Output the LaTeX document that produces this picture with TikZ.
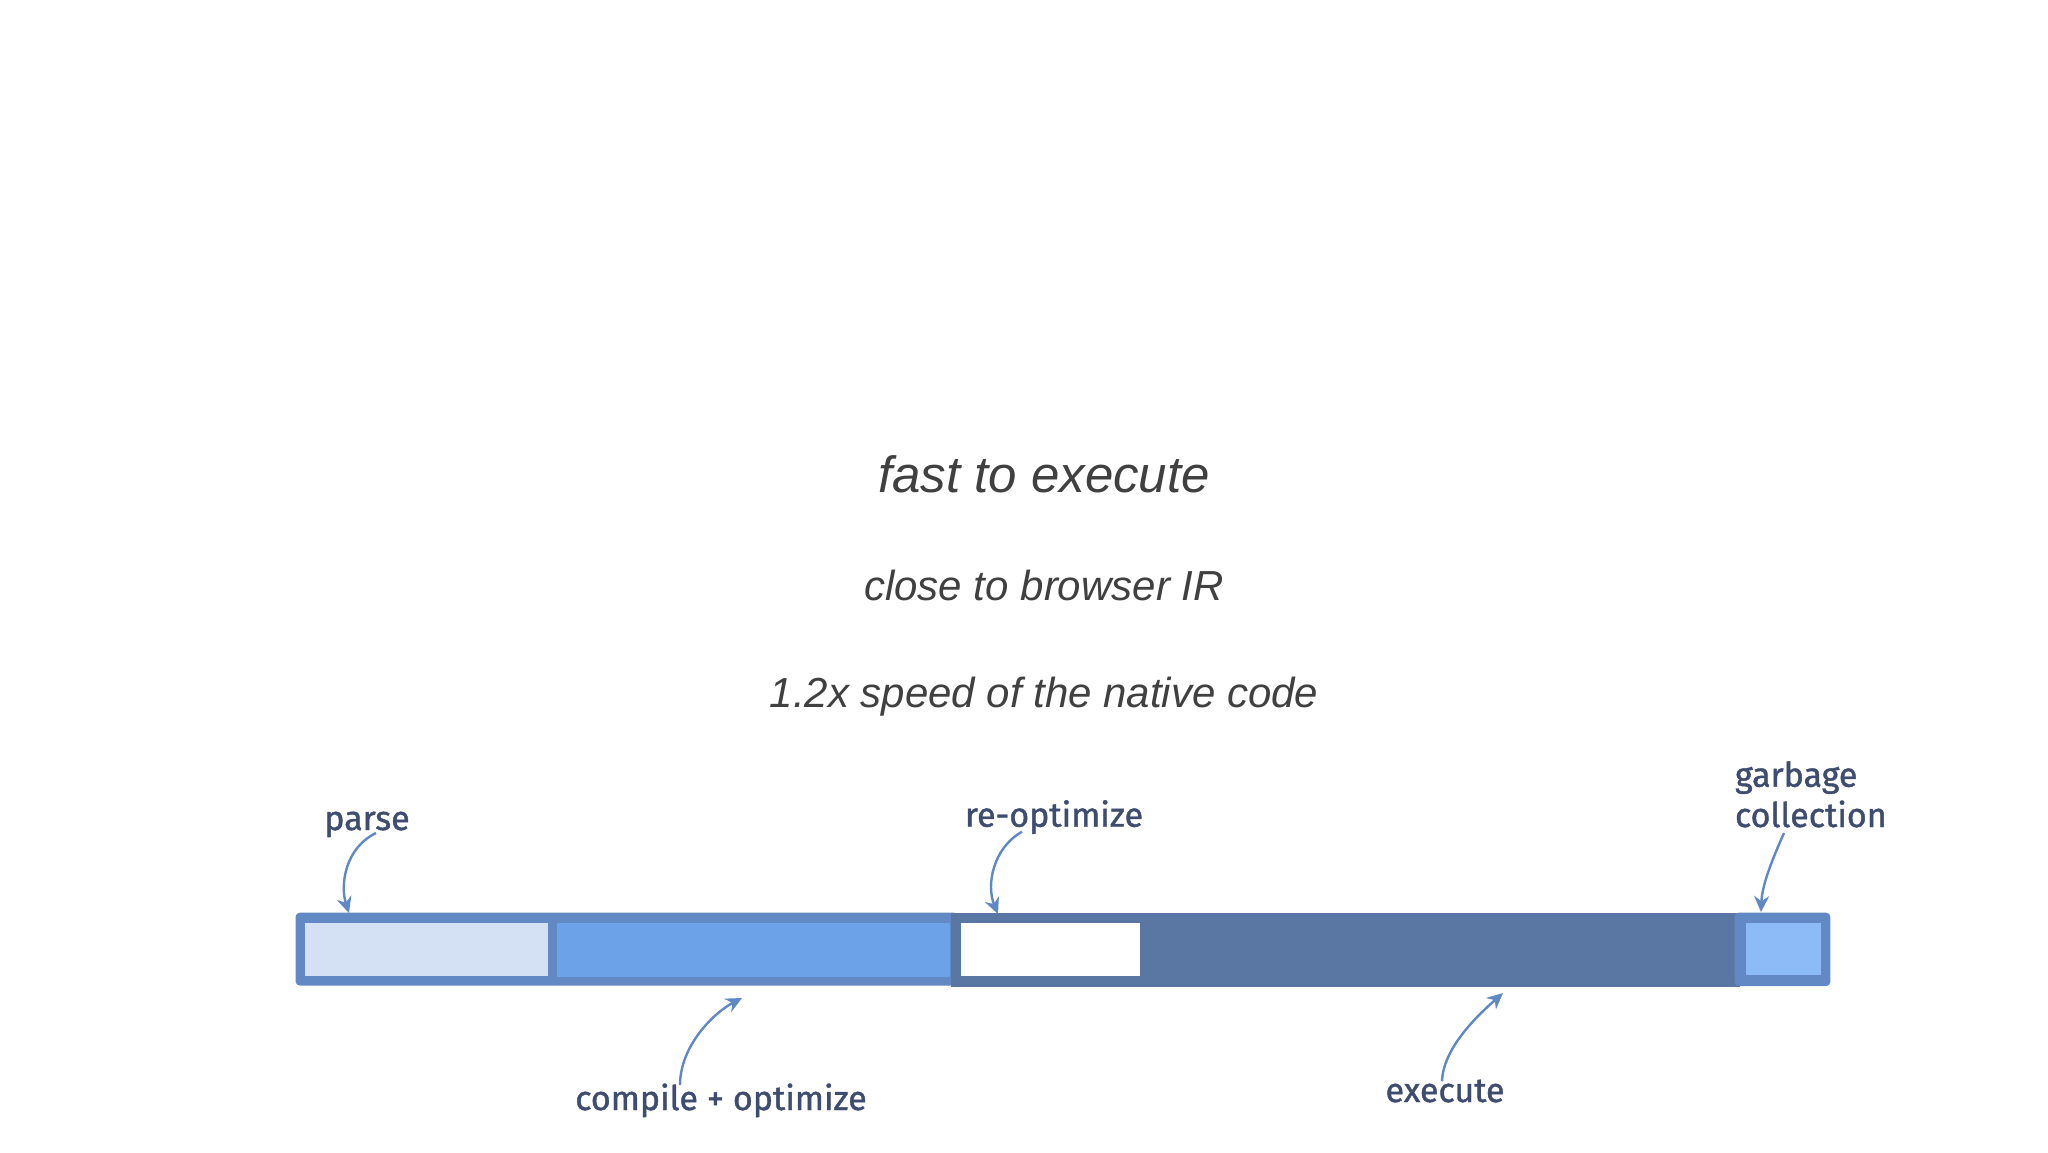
\documentclass[tikz,border=0pt]{standalone}
\usepackage{fontspec}
\setmainfont{Liberation Sans}
\newfontfamily\labelfont[FakeBold=1.2]{Fira Sans}
\usetikzlibrary{arrows.meta}
\definecolor{txtgray}{HTML}{404040}
\definecolor{lblcol}{HTML}{3E4D6F}
\definecolor{arrcol}{HTML}{5F88C4}
\definecolor{bordA}{HTML}{6389C4}
\definecolor{parsefill}{HTML}{D4E1F4}
\definecolor{compfill}{HTML}{6CA2E8}
\definecolor{execcol}{HTML}{5A77A4}
\definecolor{gcfill}{HTML}{8CBBF8}
\begin{document}
\begin{tikzpicture}[x=0.5pt,y=-0.5pt,
  title/.style={font=\fontsize{25.5pt}{30pt}\selectfont\itshape, text=txtgray, anchor=base, inner sep=0},
  sub/.style={font=\fontsize{21pt}{25pt}\selectfont\itshape, text=txtgray, anchor=base, inner sep=0},
  lbl/.style={font=\labelfont\fontsize{17pt}{20pt}\selectfont, text=lblcol, inner sep=0},
  pointer/.style={draw=arrcol, line width=1.2pt, -{Stealth[length=8pt,width=7.5pt]}}
]
\useasboundingbox[fill=white] (0,0) rectangle (2048,1152);

% titles
\node[title] (t1) at (1044,492) {fast to execute};
\node[sub] (t2) at (1044,600.5) {close to browser IR};
\node[sub] (t3) at (1044,707) {1.2x speed of the native code};

% bar
\fill[bordA, rounded corners=2pt] (295.6,912.7) rectangle (958,985.5);
\fill[parsefill] (304.6,922.7) rectangle (548,976);
\fill[compfill] (557,922.5) rectangle (950,976.5);
\fill[execcol] (951,912.7) rectangle (1740,986.5);
\fill[white] (960.5,922.7) rectangle (1140,976);
\fill[bordA, rounded corners=2pt] (1734.6,912.7) rectangle (1830.3,986);
\fill[gcfill] (1746,922.7) rectangle (1820.7,975);

% labels
\node[lbl, anchor=base] (lparse) at (367,830) {parse};
\node[lbl, anchor=base] (lreopt) at (1054,826.7) {re-optimize};
\node[lbl, anchor=base west] (lgc1) at (1734.6,786.7) {garbage};
\node[lbl, anchor=base west] (lgc2) at (1734.6,827) {collection};
\node[lbl, anchor=base] (lcomp) at (721,1110) {compile + optimize};
\node[lbl, anchor=base] (lexec) at (1445,1102) {execute};

% arrow targets
\coordinate (tparse) at (349,913);
\coordinate (treopt) at (998,914);
\coordinate (tcomp) at (742,998);
\coordinate (texec) at (1503,993);
\coordinate (tgc) at (1761,912);

% arrows
\draw[pointer] ([xshift=4.5pt,yshift=-1.5pt]lparse.base) .. controls (345,848) and (340,885) .. (tparse);
\draw[pointer] ([xshift=-16pt,yshift=-2.5pt]lreopt.base) .. controls (993,848) and (986,885) .. (treopt);
\draw[pointer] ([xshift=-20.5pt,yshift=-1pt]lcomp.north) .. controls (680,1045) and (715,1012) .. (tcomp);
\draw[pointer] ([xshift=-1.5pt,yshift=-1pt]lexec.north) .. controls (1443,1048) and (1478,1015) .. (texec);
\draw[pointer] ([xshift=24.7pt,yshift=-3pt]lgc2.base west) .. controls (1772,860) and (1762,885) .. (tgc);
\end{tikzpicture}
\end{document}
